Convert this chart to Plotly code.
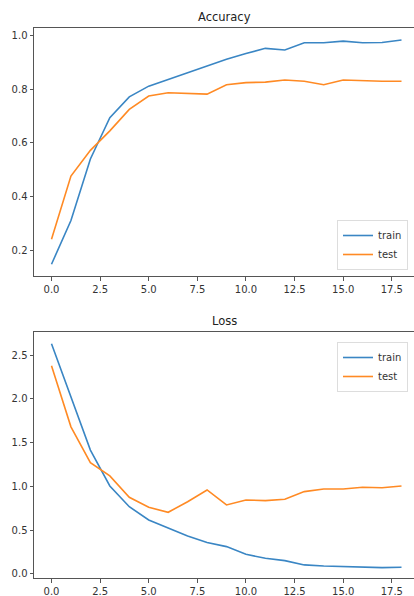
import plotly.graph_objects as go

epochs = list(range(19))
acc_train = [0.147, 0.31, 0.54, 0.694, 0.772, 0.812, 0.837, 0.862, 0.888, 0.912,
             0.934, 0.953, 0.947, 0.974, 0.974, 0.980, 0.974, 0.975, 0.984]
acc_test = [0.240, 0.476, 0.572, 0.645, 0.725, 0.775, 0.787, 0.785, 0.782, 0.817,
            0.825, 0.827, 0.835, 0.830, 0.817, 0.835, 0.832, 0.830, 0.830]
loss_train = [2.63, 2.02, 1.415, 1.005, 0.768, 0.616, 0.521, 0.434, 0.358, 0.312,
              0.224, 0.179, 0.152, 0.103, 0.091, 0.084, 0.084, 0.072, 0.076]
loss_test = [2.378, 1.68, 1.27, 1.119, 0.875, 0.761, 0.704, 0.825, 0.959, 0.788,
             0.845, 0.837, 0.853, 0.94, 0.970, 0.970, 0.99, 0.985, 1.005]

BLUE = "#3a86c4"
ORANGE = "#ff8a24"
FONT = "DejaVu Sans"
SPINE = "#555"
# the original axes extend slightly past the 414px-wide viewport (right spine clipped)
W, H = 460, 596

fig = go.Figure()
fig.add_trace(go.Scatter(x=epochs, y=acc_train, mode="lines", name="train",
                         line=dict(color=BLUE, width=1.6), xaxis="x", yaxis="y", legend="legend"))
fig.add_trace(go.Scatter(x=epochs, y=acc_test, mode="lines", name="test",
                         line=dict(color=ORANGE, width=1.6), xaxis="x", yaxis="y", legend="legend"))
fig.add_trace(go.Scatter(x=epochs, y=loss_train, mode="lines", name="train",
                         line=dict(color=BLUE, width=1.6), xaxis="x2", yaxis="y2", legend="legend2"))
fig.add_trace(go.Scatter(x=epochs, y=loss_test, mode="lines", name="test",
                         line=dict(color=ORANGE, width=1.6), xaxis="x2", yaxis="y2", legend="legend2"))

x0 = 34 / W
x1 = 419 / W
def py(p):
    return 1 - p / H

axis_common = dict(showline=True, linecolor=SPINE, linewidth=1, ticks="outside",
                   ticklen=3.5, tickcolor=SPINE, tickwidth=1, showgrid=False, zeroline=False,
                   tickfont=dict(family=FONT, size=10, color="#333"), tickformat=".1f")

xr = [-0.9, 18.9]
top1, bot1 = py(28), py(276)
top2, bot2 = py(332.3), py(578.3)
fig.update_layout(
    width=W, height=H,
    margin=dict(l=0, r=0, t=0, b=0),
    paper_bgcolor="white", plot_bgcolor="white",
    font=dict(family=FONT, size=10, color="#333"),
    xaxis=dict(domain=[x0, x1], range=xr, dtick=2.5, tick0=0, anchor="y", mirror=True, **axis_common),
    yaxis=dict(domain=[bot1, top1], range=[0.103, 1.029], dtick=0.2, tick0=0, anchor="x", **axis_common),
    xaxis2=dict(domain=[x0, x1], range=xr, dtick=2.5, tick0=0, anchor="y2", mirror=True, **axis_common),
    yaxis2=dict(domain=[bot2, top2], range=[-0.05, 2.76], dtick=0.5, tick0=0, anchor="x2", **axis_common),
    legend=dict(x=408 / W, xanchor="right", y=py(270), yanchor="bottom",
                bordercolor="#ddd", borderwidth=1, bgcolor="white",
                font=dict(family=FONT, size=10, color="#333"), itemwidth=30, tracegroupgap=0),
    legend2=dict(x=408 / W, xanchor="right", y=py(342), yanchor="top",
                 bordercolor="#ddd", borderwidth=1, bgcolor="white",
                 font=dict(family=FONT, size=10, color="#333"), itemwidth=30, tracegroupgap=0),
    annotations=[
        dict(text="Accuracy", x=224 / W, y=py(17), xref="paper", yref="paper", showarrow=False,
             yanchor="middle", font=dict(family=FONT, size=11.5, color="#222")),
        dict(text="Loss", x=224 / W, y=py(321), xref="paper", yref="paper", showarrow=False,
             yanchor="middle", font=dict(family=FONT, size=11.5, color="#222")),
    ],
)

fig.write_html("out.html", config={"displayModeBar": False},
               post_script="document.body.style.margin='0';document.body.style.overflow='hidden';")
